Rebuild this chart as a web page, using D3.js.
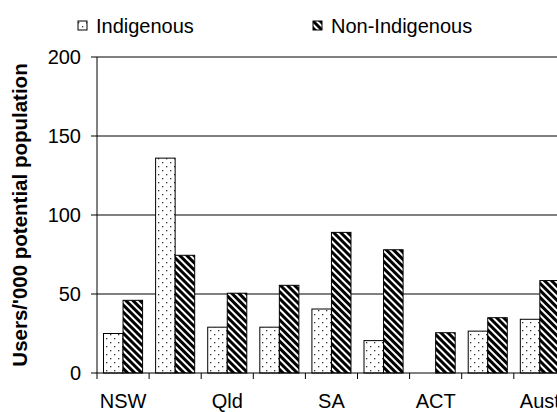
<!DOCTYPE html>
<html>
<head>
<meta charset="utf-8">
<script src="https://cdn.jsdelivr.net/npm/d3@7"></script>
<style>
    body { margin: 0; background: #fff; }
    text { font-family: "Liberation Sans", Arial, sans-serif; fill: #000; }
</style>
</head>
<body>
<div id="chart1"></div>
<script>
var categories = ["NSW", "Vic", "Qld", "WA", "SA", "Tas", "ACT", "NT", "Aust"];
var indigenous = [25, 136, 29, 29, 40.5, 20.5, null, 26.5, 34];
var nonIndigenous = [46, 74.5, 50.5, 55.5, 89, 78, 25.5, 35, 58.5];
var yTicks = [0, 50, 100, 150, 200];
var seriesNames = ["Indigenous", "Non-Indigenous"];

drawChart();

function drawChart() {
    var width = 557, height = 412;
    var svg = d3.select("#chart1").append("svg")
        .attr("width", width)
        .attr("height", height);

    var defs = svg.append("defs");

    // dotted fill
    var dots = defs.append("pattern")
        .attr("id", "dots")
        .attr("patternUnits", "userSpaceOnUse")
        .attr("width", 8).attr("height", 8);
    dots.append("rect").attr("width", 8).attr("height", 8).attr("fill", "#fff");
    dots.append("rect").attr("x", 2).attr("y", 2).attr("width", 1.3).attr("height", 1.3).attr("fill", "#333");
    dots.append("rect").attr("x", 6).attr("y", 6).attr("width", 1.3).attr("height", 1.3).attr("fill", "#333");

    // diagonal stripes
    var stripes = defs.append("pattern")
        .attr("id", "stripes")
        .attr("patternUnits", "userSpaceOnUse")
        .attr("width", 5).attr("height", 5)
        .attr("patternTransform", "rotate(-45)");
    stripes.append("rect").attr("width", 5).attr("height", 5).attr("fill", "#fff");
    stripes.append("rect").attr("width", 3).attr("height", 5).attr("fill", "#000");

    var left = 97, bottom = 373, top = 57;
    var x = d3.scaleBand().domain(categories)
        .range([left, left + 9 * 52.1])
        .paddingInner(0.25).paddingOuter(0.125);
    var y = d3.scaleLinear().domain([0, 200]).range([bottom, top]);
    var half = x.bandwidth() / 2;

    // gridlines
    svg.append("g").selectAll("line")
        .data(yTicks.slice(1))
        .enter().append("line")
        .attr("x1", left).attr("x2", width)
        .attr("y1", function (d) { return y(d); })
        .attr("y2", function (d) { return y(d); })
        .attr("stroke", "#000").attr("stroke-width", 1);

    // bars
    var bars = svg.append("g");
    categories.forEach(function (c, i) {
        if (indigenous[i] != null) {
            bars.append("rect")
                .attr("x", x(c)).attr("y", y(indigenous[i]))
                .attr("width", half).attr("height", bottom - y(indigenous[i]))
                .attr("fill", "url(#dots)").attr("stroke", "#000").attr("stroke-width", 1);
        }
        bars.append("rect")
            .attr("x", x(c) + half).attr("y", y(nonIndigenous[i]))
            .attr("width", half).attr("height", bottom - y(nonIndigenous[i]))
            .attr("fill", "url(#stripes)").attr("stroke", "#000").attr("stroke-width", 1);
    });

    // y axis
    svg.append("line")
        .attr("x1", left).attr("x2", left).attr("y1", top).attr("y2", bottom)
        .attr("stroke", "#000");
    var yt = svg.append("g").selectAll("g").data(yTicks).enter().append("g");
    yt.append("line")
        .attr("x1", left - 6).attr("x2", left)
        .attr("y1", function (d) { return y(d); })
        .attr("y2", function (d) { return y(d); })
        .attr("stroke", "#000");
    yt.append("text")
        .attr("x", left - 16)
        .attr("y", function (d) { return y(d); })
        .attr("dy", "0.35em")
        .attr("text-anchor", "end")
        .style("font-size", "20px")
        .text(function (d) { return d; });

    // x axis
    svg.append("line")
        .attr("x1", left).attr("x2", width).attr("y1", bottom).attr("y2", bottom)
        .attr("stroke", "#000");
    svg.append("g").selectAll("line")
        .data(categories)
        .enter().append("line")
        .attr("x1", function (d) { return x(d) - x.step() * 0.125; })
        .attr("x2", function (d) { return x(d) - x.step() * 0.125; })
        .attr("y1", bottom).attr("y2", bottom + 6)
        .attr("stroke", "#000");
    svg.append("g").selectAll("text")
        .data(categories.filter(function (d, i) { return i % 2 == 0; }))
        .enter().append("text")
        .attr("x", function (d) { return x(d) + half; })
        .attr("y", 408)
        .attr("text-anchor", "middle")
        .style("font-size", "20px")
        .text(function (d) { return d; });

    // y-axis label
    svg.append("text")
        .attr("transform", "translate(27," + (top + bottom) / 2 + ") rotate(-90)")
        .attr("text-anchor", "middle")
        .style("font-size", "20.5px")
        .style("font-weight", "bold")
        .text("Users/'000 potential population");

    // legend
    var legendX = [78, 313];
    var fills = ["url(#dots)", "url(#stripes)"];
    seriesNames.forEach(function (s, i) {
        svg.append("rect")
            .attr("x", legendX[i]).attr("y", 21)
            .attr("width", 9).attr("height", 9)
            .attr("fill", fills[i]).attr("stroke", "#000");
        svg.append("text")
            .attr("x", legendX[i] + 18).attr("y", 33)
            .style("font-size", "20px")
            .text(s);
    });
}
</script>
</body>
</html>
